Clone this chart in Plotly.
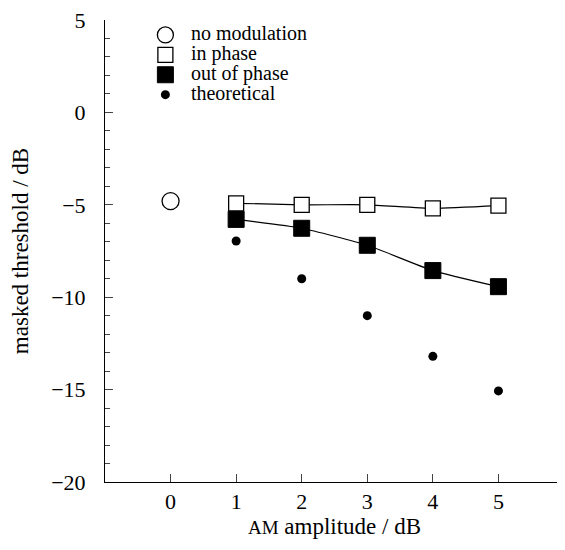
import plotly.graph_objects as go

# Data
nomod_x = [0]
nomod_y = [-4.8]
amp = [1, 2, 3, 4, 5]
in_phase = [-4.92, -5.0, -5.0, -5.19, -5.05]
out_phase = [-5.79, -6.27, -7.19, -8.56, -9.43]
theoretical = [-6.96, -9.0, -11.0, -13.2, -15.07]
xticks = [0, 1, 2, 3, 4, 5]
yticks = [5, 0, -5, -10, -15, -20]
ytick_text = ["5", "0", "\u22125", "\u221210", "\u221215", "\u221220"]
legend_names = ["no modulation", "in phase", "out of phase", "theoretical"]

FONT = "Liberation Serif"

def lg(s):
    return "<span style='font-size:20px'>" + s + "</span>"

fig = go.Figure()
fig.add_trace(go.Scatter(x=amp, y=in_phase, mode="lines", line=dict(color="black", width=1.2, shape="spline", smoothing=0.5),
                         showlegend=False, hoverinfo="skip"))
fig.add_trace(go.Scatter(x=amp, y=out_phase, mode="lines", line=dict(color="black", width=1.2, shape="spline", smoothing=0.5),
                         showlegend=False, hoverinfo="skip"))
fig.add_trace(go.Scatter(x=nomod_x, y=nomod_y, mode="markers", name=lg(legend_names[0]),
                         marker=dict(symbol="circle-open", size=17, color="black", line=dict(width=1.3))))
fig.add_trace(go.Scatter(x=amp, y=in_phase, mode="markers", name=lg(legend_names[1]),
                         marker=dict(symbol="square", size=15, color="white", line=dict(width=1.3, color="black"))))
fig.add_trace(go.Scatter(x=amp, y=out_phase, mode="markers", name=lg(legend_names[2]),
                         marker=dict(symbol="square", size=16, color="black", line=dict(width=1, color="black"))))
fig.add_trace(go.Scatter(x=amp, y=theoretical, mode="markers", name=lg(legend_names[3]),
                         marker=dict(symbol="circle", size=9, color="black")))

fig.update_layout(
    width=557, height=542,
    margin=dict(l=97, r=1, t=12, b=68),
    paper_bgcolor="white", plot_bgcolor="white",
    font=dict(family=FONT, size=22, color="black"),
    showlegend=True,
    legend=dict(x=0.076, y=1.0, xanchor="left", yanchor="top", bgcolor="rgba(0,0,0,0)",
                font=dict(family=FONT, size=13), itemsizing="trace", tracegroupgap=0,
                itemwidth=41),
    xaxis=dict(range=[-1, 6], tickvals=xticks, ticks="inside", ticklen=8, tickwidth=1,
               showline=True, linecolor="black", linewidth=1, showgrid=False, zeroline=False,
               mirror=False, ticklabelstandoff=0, automargin=False, ticklabeloverflow="allow",
               title=dict(text="<span style='font-size:19px'>AM</span> amplitude / dB", standoff=0,
                          font=dict(family=FONT, size=23))),
    yaxis=dict(range=[-20, 5], tickvals=yticks, ticktext=ytick_text, ticks="inside", ticklen=8, tickwidth=1,
               showline=True, linecolor="black", linewidth=1, showgrid=False, zeroline=False,
               ticklabelstandoff=14, automargin=False, ticklabeloverflow="allow",
               minor=dict(dtick=1, ticks="inside", ticklen=5, tickwidth=1, showgrid=False),
               title=dict(text="masked threshold / dB", standoff=18, font=dict(family=FONT, size=23))),
)

fig.write_html("out.html")
